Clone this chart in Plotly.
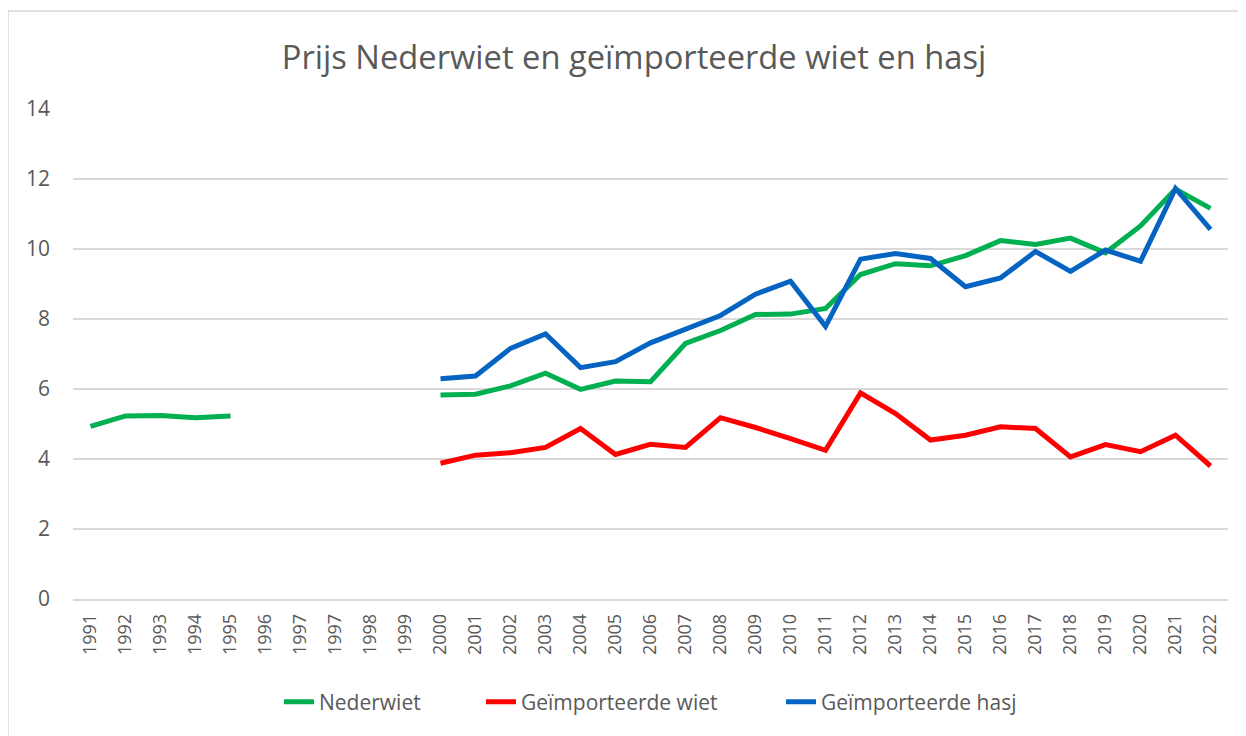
import plotly.graph_objects as go

# Category labels as shown on the x axis (note: "1997" appears twice in the original)
years = ["1991", "1992", "1993", "1994", "1995", "1996", "1997", "1997", "1998", "1999",
         "2000", "2001", "2002", "2003", "2004", "2005", "2006", "2007", "2008", "2009",
         "2010", "2011", "2012", "2013", "2014", "2015", "2016", "2017", "2018", "2019",
         "2020", "2021", "2022"]

nederwiet = [4.93, 5.23, 5.24, 5.18, 5.23, None, None, None, None, None,
             5.83, 5.85, 6.09, 6.45, 5.99, 6.23, 6.21, 7.30, 7.67, 8.13,
             8.14, 8.30, 9.27, 9.58, 9.52, 9.81, 10.24, 10.13, 10.31, 9.89,
             10.66, 11.71, 11.16]

geimp_wiet = [None, None, None, None, None, None, None, None, None, None,
              3.88, 4.11, 4.18, 4.33, 4.87, 4.13, 4.42, 4.33, 5.18, 4.90,
              4.58, 4.25, 5.89, 5.30, 4.54, 4.68, 4.92, 4.87, 4.06, 4.41,
              4.21, 4.68, 3.80]

geimp_hasj = [None, None, None, None, None, None, None, None, None, None,
              6.29, 6.37, 7.16, 7.57, 6.61, 6.78, 7.32, 7.72, 8.10, 8.71,
              9.08, 7.79, 9.71, 9.87, 9.73, 8.92, 9.17, 9.93, 9.36, 9.97,
              9.65, 11.73, 10.56]

series_names = ["Nederwiet", "Geïmporteerde wiet", "Geïmporteerde hasj"]
colors = ["#00B050", "#FF0000", "#0563C1"]

x_idx = list(range(len(years)))
font_family = "'Open Sans', 'Noto Sans', Arial, sans-serif"
text_col = "#595959"

# page body has an 8px margin; figure is sized so the plot lands at the reference position
W, H = 1238, 728
OFF = 8
PL, PR, PT, PB = 73, 1228, 109, 599  # plot area in window pixels
pw, ph = PR - PL, PB - PT

legend_keys = ["legend", "legend2", "legend3"]
legend_left_px = [279, 481, 781]  # left edge of each legend entry (window px)

fig = go.Figure()
for name, vals, col, lk in zip(series_names, [nederwiet, geimp_wiet, geimp_hasj], colors, legend_keys):
    fig.add_trace(go.Scatter(
        x=x_idx, y=vals, name=name, mode="lines",
        line=dict(color=col, width=5, shape="linear"),
        connectgaps=False, legend=lk,
    ))

legend_common = dict(orientation="h", xanchor="left", y=(PB - 702) / ph, yanchor="middle",
                     font=dict(size=21, color=text_col), bgcolor="rgba(0,0,0,0)")

fig.update_layout(
    width=W, height=H,
    margin=dict(l=PL - OFF, r=OFF + W - PR, t=PT - OFF, b=OFF + H - PB),
    paper_bgcolor="white", plot_bgcolor="white",
    font=dict(family=font_family, color=text_col, size=16),
    title=dict(text="Prijs Nederwiet en geïmporteerde wiet en hasj",
               x=(634 - OFF) / W, xanchor="center", xref="container",
               y=1 - (58 - OFF) / H, yanchor="middle", yref="container",
               font=dict(size=32.7, color=text_col, family=font_family)),
    showlegend=True,
    legend=dict(x=(legend_left_px[0] - PL) / pw, **legend_common),
    legend2=dict(x=(legend_left_px[1] - PL) / pw, **legend_common),
    legend3=dict(x=(legend_left_px[2] - PL) / pw, **legend_common),
    shapes=[dict(type="rect", xref="paper", yref="paper",
                 x0=(8 - PL) / pw, x1=(1270 - PL) / pw,
                 y0=(PB - 760) / ph, y1=(PB - 11) / ph,
                 line=dict(color="#D9D9D9", width=1.5), layer="below")],
)

fig.update_xaxes(
    tickmode="array", tickvals=x_idx, ticktext=years, tickangle=-90,
    range=[-0.5, len(years) - 0.5], showgrid=False, zeroline=False,
    showline=True, linecolor="#D9D9D9", linewidth=1.5,
    ticks="", tickfont=dict(size=18, color=text_col), ticklabelstandoff=6,
)
fig.update_yaxes(
    range=[0, 14], tickvals=[0, 2, 4, 6, 8, 10, 12, 14],
    showgrid=True, gridcolor="#D9D9D9", gridwidth=1.5, zeroline=False,
    showline=False, ticks="", tickfont=dict(size=21, color=text_col),
    ticklabelstandoff=22,
)

fig.write_html("out.html")
